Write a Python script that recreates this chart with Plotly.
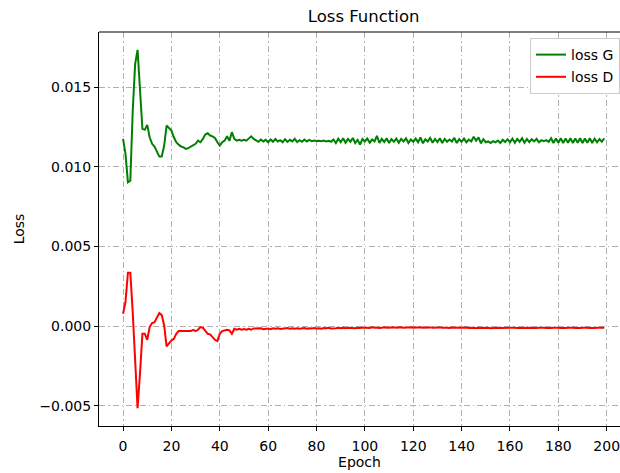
import plotly.graph_objects as go

epochs = list(range(200))

loss_g = [
    0.01176, 0.01082, 0.00904, 0.00914, 0.01353, 0.01647, 0.01735, 0.01479, 0.01239, 0.01233,  # 0-9
    0.01264, 0.01186, 0.01145, 0.01128, 0.01092, 0.01065, 0.01065, 0.01134, 0.01260, 0.01243,  # 10-19
    0.01228, 0.01186, 0.01155, 0.01140, 0.01128, 0.01123, 0.01113, 0.01118, 0.01128, 0.01134,  # 20-29
    0.01145, 0.01165, 0.01155, 0.01176, 0.01203, 0.01211, 0.01197, 0.01192, 0.01182, 0.01155,  # 30-39
    0.01134, 0.01155, 0.01165, 0.01192, 0.01165, 0.01218, 0.01176, 0.01165, 0.01170, 0.01165,  # 40-49
    0.01170, 0.01165, 0.01176, 0.01192, 0.01176, 0.01165, 0.01158, 0.01172, 0.01160, 0.01170,  # 50-59
    0.01155, 0.01172, 0.01158, 0.01175, 0.01160, 0.01168, 0.01155, 0.01174, 0.01157, 0.01170,  # 60-69
    0.01160, 0.01176, 0.01156, 0.01168, 0.01158, 0.01172, 0.01160, 0.01170, 0.01162, 0.01166,  # 70-79
    0.01163, 0.01165, 0.01162, 0.01166, 0.01160, 0.01164, 0.01158, 0.01172, 0.01150, 0.01178,  # 80-89
    0.01155, 0.01180, 0.01152, 0.01176, 0.01158, 0.01182, 0.01150, 0.01170, 0.01140, 0.01175,  # 90-99
    0.01160, 0.01178, 0.01152, 0.01172, 0.01160, 0.01195, 0.01150, 0.01176, 0.01156, 0.01180,  # 100-109
    0.01150, 0.01174, 0.01158, 0.01178, 0.01152, 0.01176, 0.01160, 0.01180, 0.01150, 0.01172,  # 110-119
    0.01158, 0.01178, 0.01155, 0.01185, 0.01148, 0.01174, 0.01160, 0.01182, 0.01152, 0.01176,  # 120-129
    0.01156, 0.01180, 0.01150, 0.01176, 0.01158, 0.01172, 0.01160, 0.01182, 0.01150, 0.01174,  # 130-139
    0.01158, 0.01178, 0.01155, 0.01172, 0.01160, 0.01190, 0.01165, 0.01185, 0.01148, 0.01174,  # 140-149
    0.01155, 0.01160, 0.01150, 0.01162, 0.01155, 0.01165, 0.01150, 0.01170, 0.01156, 0.01174,  # 150-159
    0.01155, 0.01178, 0.01152, 0.01176, 0.01158, 0.01180, 0.01152, 0.01176, 0.01156, 0.01174,  # 160-169
    0.01160, 0.01176, 0.01155, 0.01168, 0.01162, 0.01168, 0.01158, 0.01180, 0.01150, 0.01178,  # 170-179
    0.01152, 0.01180, 0.01150, 0.01178, 0.01152, 0.01180, 0.01150, 0.01178, 0.01152, 0.01180,  # 180-189
    0.01150, 0.01178, 0.01152, 0.01180, 0.01150, 0.01178, 0.01155, 0.01175, 0.01158, 0.01180,  # 190-199
]

loss_d = [
    0.00078, 0.00151, 0.00335, 0.00335, 0.00086, -0.00211, -0.00515, -0.00299, -0.00048, -0.00048,  # 0-9
    -0.00086, -0.00006, 0.00019, 0.00025, 0.00057, 0.00082, 0.00069, 0.00004, -0.00127, -0.00107,  # 10-19
    -0.00090, -0.00080, -0.00048, -0.00031, -0.00031, -0.00027, -0.00027, -0.00031, -0.00031, -0.00023,  # 20-29
    -0.00031, -0.00023, -0.00006, -0.00010, -0.00027, -0.00048, -0.00052, -0.00070, -0.00086, -0.00094,  # 30-39
    -0.00048, -0.00031, -0.00027, -0.00023, -0.00027, -0.00048, -0.00017, -0.00023, -0.00017, -0.00023,  # 40-49
    -0.00019, -0.00023, -0.00017, -0.00023, -0.00015, -0.00015, -0.00018, -0.00014, -0.00020, -0.00016,  # 50-59
    -0.00015, -0.00019, -0.00014, -0.00017, -0.00013, -0.00018, -0.00015, -0.00016, -0.00012, -0.00017,  # 60-69
    -0.00014, -0.00016, -0.00013, -0.00017, -0.00015, -0.00012, -0.00016, -0.00013, -0.00015, -0.00012,  # 70-79
    -0.00015, -0.00013, -0.00016, -0.00012, -0.00014, -0.00011, -0.00015, -0.00012, -0.00013, -0.00011,  # 80-89
    -0.00014, -0.00010, -0.00013, -0.00011, -0.00012, -0.00009, -0.00013, -0.00010, -0.00012, -0.00009,  # 90-99
    -0.00011, -0.00009, -0.00012, -0.00008, -0.00011, -0.00009, -0.00012, -0.00010, -0.00008, -0.00011,  # 100-109
    -0.00009, -0.00010, -0.00008, -0.00011, -0.00009, -0.00007, -0.00010, -0.00008, -0.00009, -0.00007,  # 110-119
    -0.00010, -0.00008, -0.00009, -0.00007, -0.00010, -0.00008, -0.00009, -0.00008, -0.00010, -0.00009,  # 120-129
    -0.00010, -0.00008, -0.00011, -0.00009, -0.00010, -0.00012, -0.00009, -0.00011, -0.00010, -0.00012,  # 130-139
    -0.00010, -0.00011, -0.00009, -0.00012, -0.00010, -0.00011, -0.00013, -0.00010, -0.00012, -0.00011,  # 140-149
    -0.00012, -0.00010, -0.00013, -0.00011, -0.00012, -0.00010, -0.00012, -0.00011, -0.00013, -0.00010,  # 150-159
    -0.00012, -0.00011, -0.00010, -0.00012, -0.00011, -0.00013, -0.00010, -0.00012, -0.00011, -0.00012,  # 160-169
    -0.00010, -0.00012, -0.00011, -0.00013, -0.00011, -0.00012, -0.00010, -0.00012, -0.00011, -0.00013,  # 170-179
    -0.00011, -0.00012, -0.00010, -0.00012, -0.00011, -0.00013, -0.00011, -0.00012, -0.00010, -0.00012,  # 180-189
    -0.00011, -0.00013, -0.00011, -0.00012, -0.00010, -0.00012, -0.00011, -0.00012, -0.00011, -0.00010,  # 190-199
]

x_ticks = [0, 20, 40, 60, 80, 100, 120, 140, 160, 180, 200]
y_ticks = [-0.005, 0.0, 0.005, 0.010, 0.015]
y_tick_labels = ["\u22120.005", "0.000", "0.005", "0.010", "0.015"]

FONT = "DejaVu Sans"

# matplotlib-like 5% margins
ymin = min(min(loss_g), min(loss_d))
ymax = max(max(loss_g), max(loss_d))
yspan = ymax - ymin
y_range = [ymin - 0.05 * yspan, ymax + 0.05 * yspan]
x_range = [-9.95, 205.5]

fig = go.Figure()
fig.add_trace(go.Scatter(x=epochs, y=loss_g, mode="lines", name="loss G",
                         line=dict(color="green", width=2), legendgroup="g"))
fig.add_trace(go.Scatter(x=epochs, y=loss_d, mode="lines", name="loss D",
                         line=dict(color="red", width=2), legendgroup="d"))

grid_dash = "6px,3px,1.5px,3px"

fig.update_layout(
    width=620, height=473,
    margin=dict(l=99, r=0, t=32, b=47, pad=0),
    paper_bgcolor="white", plot_bgcolor="white",
    font=dict(family=FONT, size=14, color="black"),
    title=dict(text="Loss Function", x=0.508, xref="paper", xanchor="center",
               y=1 - 16 / 473, yref="container", yanchor="middle",
               font=dict(family=FONT, size=16.5, color="black")),
    showlegend=True,
    legend=dict(x=1.0, xanchor="right", xref="paper", y=1 - 6 / 394, yanchor="top",
                bgcolor="white", bordercolor="#cccccc", borderwidth=1,
                font=dict(family=FONT, size=14, color="black"),
                tracegroupgap=1, itemwidth=30),
    xaxis=dict(range=x_range, tickmode="array", tickvals=x_ticks,
               ticks="outside", ticklen=4, tickwidth=1, tickcolor="black",
               ticklabeloverflow="allow", ticklabelstandoff=3,
               showline=True, linecolor="black", linewidth=1, mirror=False,
               showgrid=True, gridcolor="#b0b0b0", gridwidth=1, griddash=grid_dash,
               zeroline=False,
               title=dict(text="Epoch", font=dict(family=FONT, size=14), standoff=2),
               tickfont=dict(family=FONT, size=14)),
    yaxis=dict(range=y_range, tickmode="array", tickvals=y_ticks, ticktext=y_tick_labels,
               ticks="outside", ticklen=4, tickwidth=1, tickcolor="black",
               showline=True, linecolor="black", linewidth=1, mirror=False,
               showgrid=True, gridcolor="#b0b0b0", gridwidth=1, griddash=grid_dash,
               zeroline=False,
               title=dict(text="Loss", font=dict(family=FONT, size=14), standoff=11),
               tickfont=dict(family=FONT, size=14)),
)

# top spine
fig.add_shape(type="line", xref="paper", yref="paper", x0=0, x1=1, y0=1, y1=1,
              line=dict(color="black", width=1))

fig.write_html("out.html")
